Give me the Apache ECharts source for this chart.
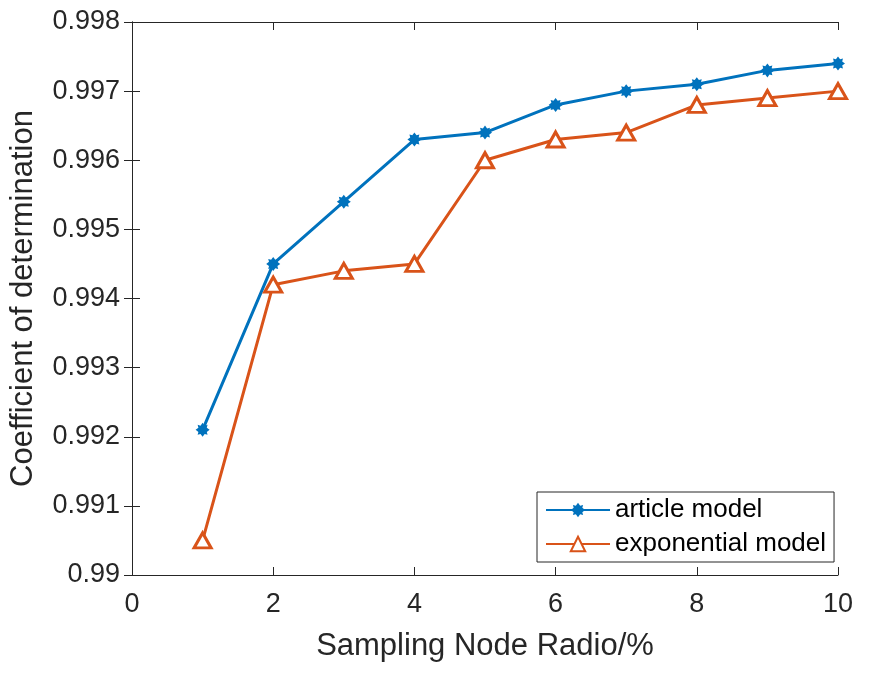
<!DOCTYPE html>
<html>
<head>
<meta charset="utf-8">
<script src="https://cdn.jsdelivr.net/npm/echarts@6/dist/echarts.min.js"></script>
<style>html,body{margin:0;padding:0;background:#fff;}#c{width:869px;height:682px;}</style>
</head>
<body>
<div id="c"></div>
<script>
var xValues = [1, 2, 3, 4, 5, 6, 7, 8, 9, 10];
var articleModel = [0.9921, 0.9945, 0.9954, 0.9963, 0.9964, 0.9968, 0.9970, 0.9971, 0.9973, 0.9974];
var exponentialModel = [0.9905, 0.9942, 0.9944, 0.9945, 0.9960, 0.9963, 0.9964, 0.9968, 0.9969, 0.9970];
var seriesNames = ['article model', 'exponential model'];
var xTitle = 'Sampling Node Radio/%';
var yTitle = 'Coefficient of determination';

function pairs(ys) { return xValues.map(function (x, i) { return [x, ys[i]]; }); }
function fmtY(v) {
  var s = (Math.round(v * 1000) / 1000).toFixed(3);
  s = s.replace(/0+$/, '').replace(/\.$/, '');
  return s;
}
var axisColor = '#262626';
var font = "'Liberation Sans', Arial, Helvetica, sans-serif";
var starPath = 'path://M0,-10 L3,-6 L7.1,-7.1 L6,-3 L10,0 L6,3 L7.1,7.1 L3,6 L0,10 L-3,6 L-7.1,7.1 L-6,3 L-10,0 L-6,-3 L-7.1,-7.1 L-3,-6 Z';

var chart = echarts.init(document.getElementById('c'), null, {renderer: 'canvas'});
chart.setOption({
  animation: false,
  backgroundColor: '#fff',
  grid: {left: 130, right: 31, top: 22, bottom: 107, containLabel: false},
  legend: {
    orient: 'vertical',
    left: 537, top: 492,
    padding: [5, 8, 5, 8],
    itemGap: 8,
    itemWidth: 64, itemHeight: 18,
    backgroundColor: '#fff',
    borderColor: axisColor, borderWidth: 1,
    textStyle: {fontFamily: font, fontSize: 26, color: '#000'},
    data: seriesNames
  },
  xAxis: [{
    type: 'value', min: 0, max: 10, interval: 2,
    name: xTitle, nameLocation: 'middle', nameGap: 56,
    nameTextStyle: {fontFamily: font, fontSize: 31, color: axisColor},
    axisLine: {show: true, lineStyle: {color: axisColor, width: 1}},
    axisTick: {show: true, inside: true, length: 8, lineStyle: {color: axisColor}},
    axisLabel: {fontFamily: font, fontSize: 27, color: axisColor, margin: 16},
    splitLine: {show: false}
  }, {
    type: 'value', min: 0, max: 10, interval: 2, position: 'top',
    axisLine: {show: true, lineStyle: {color: axisColor, width: 1}},
    axisTick: {show: true, inside: true, length: 8, lineStyle: {color: axisColor}},
    axisLabel: {show: false}, splitLine: {show: false}
  }],
  yAxis: [{
    type: 'value', min: 0.990, max: 0.998, interval: 0.001,
    name: yTitle, nameLocation: 'middle', nameGap: 93, nameRotate: 90,
    nameTextStyle: {fontFamily: font, fontSize: 31, color: axisColor},
    axisLine: {show: true, lineStyle: {color: axisColor, width: 1}},
    axisTick: {show: true, inside: true, length: 8, lineStyle: {color: axisColor}},
    axisLabel: {fontFamily: font, fontSize: 27, color: axisColor, margin: 12, formatter: fmtY},
    splitLine: {show: false}
  }, {
    type: 'value', min: 0.990, max: 0.998, interval: 0.001, position: 'right',
    axisLine: {show: true, lineStyle: {color: axisColor, width: 1}},
    axisTick: {show: true, inside: true, length: 8, lineStyle: {color: axisColor}},
    axisLabel: {show: false}, splitLine: {show: false}
  }],
  series: [{
    name: seriesNames[0], type: 'line', data: pairs(articleModel),
    lineStyle: {color: '#0072BD', width: 3},
    itemStyle: {color: '#0072BD'},
    symbol: starPath, symbolSize: 14, showSymbol: true
  }, {
    name: seriesNames[1], type: 'line', data: pairs(exponentialModel),
    lineStyle: {color: '#D95319', width: 3},
    itemStyle: {color: '#fff', borderColor: '#D95319', borderWidth: 3},
    symbol: 'triangle', symbolSize: [17, 15], showSymbol: true
  }]
});
</script>
</body>
</html>
